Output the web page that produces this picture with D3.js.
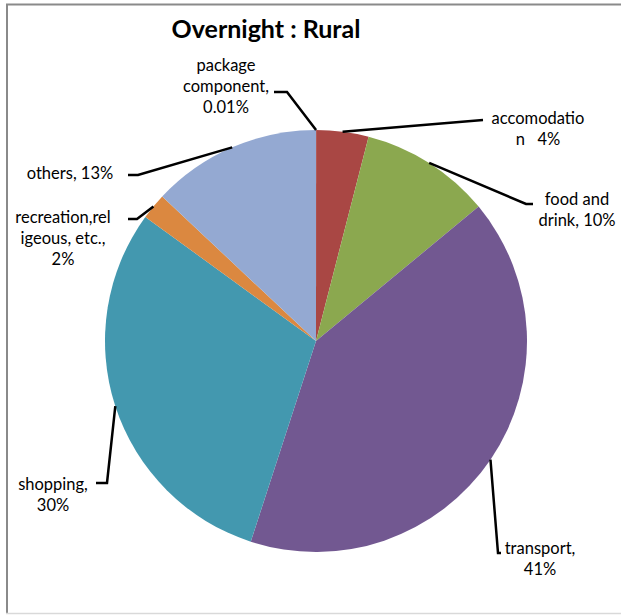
<!DOCTYPE html>
<html>
<head>
<meta charset="utf-8">
<script src="https://cdn.jsdelivr.net/npm/d3@7"></script>
<style>
  html, body { margin: 0; padding: 0; background: #fff; }
  svg { display: block; }
  text { font-family: Lato, "Open Sans", sans-serif; fill: #000; white-space: pre; }
</style>
</head>
<body>
<svg id="chart" width="621" height="615"></svg>
<script>
// Spending shares for overnight trips, rural destinations (%)
const categories = ["package component", "accomodation", "food and drink", "transport", "shopping", "recreation,religeous, etc.", "others"];
const values = [0.01, 4, 10, 41, 30, 2, 13];
const colors = ["#4a7ebb", "#a94744", "#8ba84f", "#725891", "#4398af", "#db8840", "#94a9d2"];

// Wrapped label lines; "{v}" is replaced by the slice value
const labelLines = [
  ["package", "component,", "{v}"],
  ["accomodatio", "n   {v}"],
  ["food and", "drink, {v}"],
  ["transport,", "{v}"],
  ["shopping,", "{v}"],
  ["recreation,rel", "igeous, etc.,", "{v}"],
  ["others, {v}"]
];

// Label placement: text centre x, first line y, leader bend points
const labelLayout = [
  { x: 226, y: 65,  pts: [[287, 92], [274, 92]] },
  { x: 538, y: 118, pts: [[483, 120]] },
  { x: 577, y: 199, pts: [[526, 204], [533, 204]] },
  { x: 540, y: 548, pts: [[498, 553], [501, 553]] },
  { x: 53,  y: 484, pts: [[107, 483], [96, 483]] },
  { x: 63,  y: 217, pts: [[137, 219], [128, 219]] },
  { x: 70,  y: 173, pts: [[138, 175], [128, 175]] }
];

const svg = d3.select("#chart");
const cx = 316, cy = 341, r = 211;

// Frame
svg.append("line").attr("x1", 6).attr("x2", 621).attr("y1", 4.5).attr("y2", 4.5)
  .attr("stroke", "#8a8a8a").attr("stroke-width", 2);
svg.append("line").attr("x1", 7).attr("x2", 7).attr("y1", 4).attr("y2", 614)
  .attr("stroke", "#8a8a8a").attr("stroke-width", 2);
svg.append("line").attr("x1", 6).attr("x2", 621).attr("y1", 613.5).attr("y2", 613.5)
  .attr("stroke", "#d9d9d9").attr("stroke-width", 1.5);

// Title
svg.append("text").attr("x", 266).attr("y", 38)
  .attr("text-anchor", "middle")
  .style("font-size", "25px").style("font-weight", "bold")
  .text("Overnight : Rural");

const data = categories.map((c, i) => ({ name: c, value: values[i], color: colors[i], i }));
const pie = d3.pie().sort(null).value(d => d.value);
const arcs = pie(data);
const arc = d3.arc().innerRadius(0).outerRadius(r);

const g = svg.append("g").attr("transform", `translate(${cx},${cy})`);
g.selectAll("path.slice").data(arcs).enter().append("path")
  .attr("class", "slice")
  .attr("d", arc)
  .attr("fill", d => d.data.color);

// Leader lines from each slice's outer midpoint
const fmt = v => `${v}%`;
const line = d3.line();
arcs.forEach((a, i) => {
  const mid = (a.startAngle + a.endAngle) / 2;
  const start = [cx + r * Math.sin(mid), cy - r * Math.cos(mid)];
  const L = labelLayout[i];
  svg.append("path")
    .attr("d", line([start, ...L.pts]))
    .attr("fill", "none").attr("stroke", "#000").attr("stroke-width", 2.5);

  const t = svg.append("text")
    .attr("text-anchor", "middle")
    .attr("xml:space", "preserve")
    .style("font-size", "16.5px");
  labelLines[i].forEach((s, k) => {
    t.append("tspan")
      .attr("x", L.x)
      .attr("y", L.y + k * 21)
      .attr("dy", "0.35em")
      .text(s.replace("{v}", fmt(a.data.value)));
  });
});
</script>
</body>
</html>
